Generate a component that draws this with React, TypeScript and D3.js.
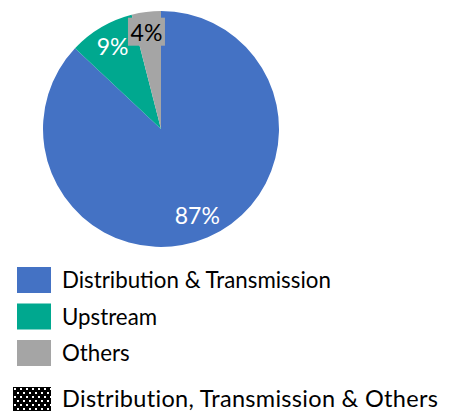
import React from "react";
import * as d3 from "d3";

const categories = ["Distribution & Transmission", "Upstream", "Others"];
const values = [87, 9, 4];
const labels = ["87%", "9%", "4%"];
const colors = ["#4472C4", "#00A88F", "#A5A5A5"];
const extraLegend = "Distribution, Transmission & Others";

const W = 451;
const H = 412;
const cx = 161;
const cy = 129;
const R = 118;
const FONT = "Lato, 'Open Sans', sans-serif";

export default function App() {
  const pie = d3.pie<number>().sort(null).value((d) => d)(values);
  const arc = d3.arc<d3.PieArcDatum<number>>().innerRadius(0).outerRadius(R);
  const labelRadii = [0.85, 0.78, 0.78];
  const labelOffsets = [
    [-3.5, -6.5],
    [-1.5, -4],
    [-3, -6],
  ];

  const legendY = d3.scaleBand<string>().domain(categories).range([267, 366]).paddingInner(0.2877);

  return (
    <svg width={W} height={H} style={{ position: "absolute", left: 0, top: 0 }} fontFamily={FONT}>
      <defs>
        <pattern id="dots" width="6" height="8" patternUnits="userSpaceOnUse" x="13" y="387">
          <rect width="6" height="8" fill="#000" />
          <rect x="1" y="1" width="2" height="2" fill="#fff" />
          <rect x="4" y="5" width="2" height="2" fill="#fff" />
        </pattern>
      </defs>
      <g transform={`translate(${cx},${cy})`}>
        {pie.map((p, i) => (
          <path key={i} d={arc(p) || ""} fill={colors[i]} />
        ))}
        {pie.map((p, i) => {
          const r = R * labelRadii[i];
          let [x, y] = d3.arc<d3.PieArcDatum<number>>().innerRadius(r).outerRadius(r).centroid(p);
          x += labelOffsets[i][0];
          y += labelOffsets[i][1];
          const isOthers = i === 2;
          return (
            <g key={"l" + i}>
              {isOthers && (
                <rect x={x - 18.5} y={y - 14} width={37} height={28} fill={colors[2]} />
              )}
              <text
                x={x}
                y={y}
                textAnchor="middle"
                dominantBaseline="central"
                fontSize={23}
                fill={isOthers ? "#000" : "#fff"}
              >
                {labels[i]}
              </text>
            </g>
          );
        })}
      </g>
      {categories.map((c, i) => (
        <g key={c}>
          <rect x={17} y={legendY(c)} width={34} height={legendY.bandwidth()} fill={colors[i]} />
          <text x={62} y={(legendY(c) || 0) + 21} fontSize={22.3} fill="#000">
            {c}
          </text>
        </g>
      ))}
      <rect x={13} y={387} width={38} height={24} fill="url(#dots)" />
      <text x={62} y={407} fontSize={23.5} letterSpacing={0.3} fill="#000">
        {extraLegend}
      </text>
    </svg>
  );
}
